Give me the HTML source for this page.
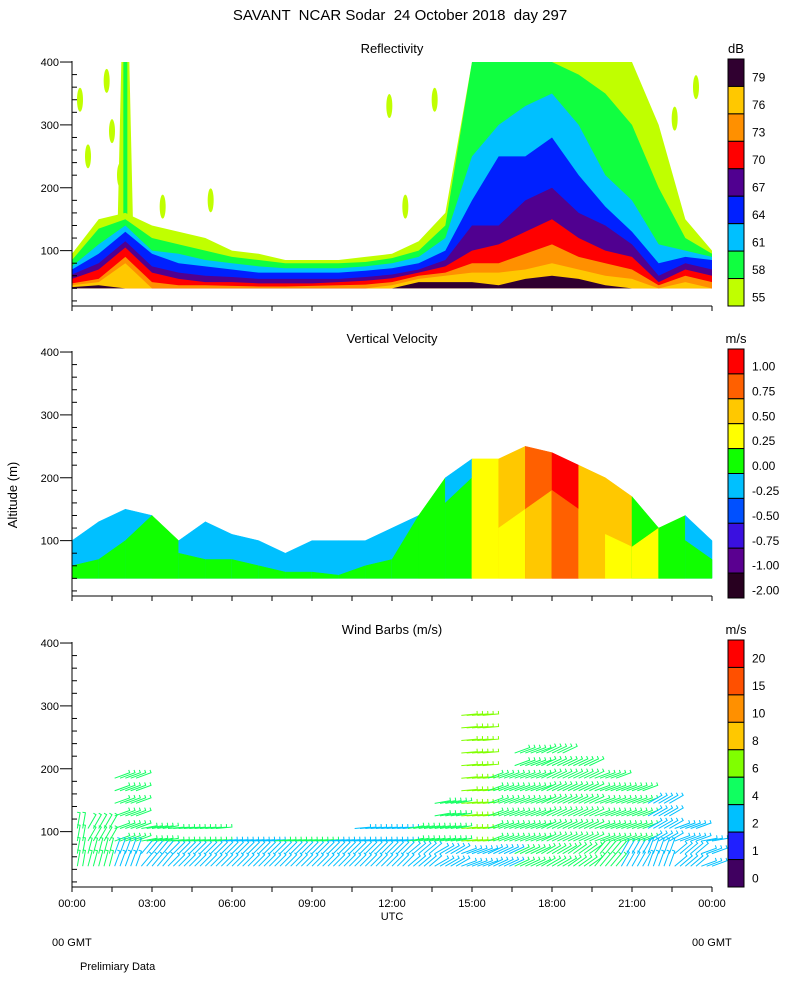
<!DOCTYPE html>
<html><head><meta charset="utf-8"><style>
body{margin:0;background:#fff;}
svg{display:block;font-family:"Liberation Sans",sans-serif;}
</style></head><body>
<svg id="chart" width="800" height="1000" xmlns="http://www.w3.org/2000/svg">
<text x="400" y="20" font-size="15" text-anchor="middle" style="white-space:pre">SAVANT  NCAR Sodar  24 October 2018  day 297</text>
<text x="392" y="53" font-size="13" text-anchor="middle">Reflectivity</text>
<text x="392" y="343" font-size="13" text-anchor="middle">Vertical Velocity</text>
<text x="392" y="634" font-size="13" text-anchor="middle">Wind Barbs (m/s)</text>
<text x="0" y="0" font-size="13" text-anchor="middle" transform="translate(17,495) rotate(-90)">Altitude (m)</text>
<text x="736" y="53" font-size="13" text-anchor="middle">dB</text>
<text x="736" y="343" font-size="13" text-anchor="middle">m/s</text>
<text x="736" y="634" font-size="13" text-anchor="middle">m/s</text>
<text x="392" y="920" font-size="11" text-anchor="middle">UTC</text>
<text x="52" y="946" font-size="11">00 GMT</text>
<text x="692" y="946" font-size="11">00 GMT</text>
<text x="80" y="970" font-size="11">Prelimiary Data</text>
<g id="g"></g>
</svg>
<script>
const hours=[0,1,2,3,4,5,6,7,8,9,10,11,12,13,14,15,16,17,18,19,20,21,22,23,24];
const reflLevels=[55,58,61,64,67,70,73,76,79];
const reflColors=['#c0ff00','#10ff40','#00c0ff','#0020ff','#500090','#ff0000','#ff9000','#ffc800','#300030'];
const refl55=[95,150,160,140,130,120,100,95,85,85,85,90,95,115,160,400,400,400,400,400,400,400,300,150,100];
const refl58=[85,135,150,120,110,100,90,85,80,80,80,82,88,100,140,400,400,400,400,380,350,300,200,120,95];
const refl61=[75,110,140,100,95,85,80,75,72,72,72,75,80,90,120,250,300,330,350,300,220,180,110,100,90];
const refl64=[70,95,130,95,80,75,70,65,65,65,65,68,72,80,100,180,250,250,280,220,170,130,80,90,85];
const refl67=[62,80,115,75,65,60,58,55,55,55,55,58,62,70,85,140,140,180,200,160,140,110,60,80,70];
const refl70=[55,70,105,65,55,50,50,48,48,48,50,52,56,65,75,100,110,130,150,120,100,90,50,70,60];
const refl73=[48,55,90,50,45,45,44,43,43,44,45,46,50,60,65,80,80,95,110,90,80,70,45,60,50];
const refl76=[45,50,80,0,0,0,0,0,0,0,0,0,45,55,60,65,65,70,80,70,60,55,0,50,0];
const refl79=[42,45,0,0,0,0,0,0,0,0,0,0,0,50,50,50,45,55,60,55,45,0,0,0,0];
const reflColumnHours=[1.85,2.0,2.15];
const reflColumnTops=[400,400,400];
const reflBlobHours=[0.3,0.6,1.3,1.5,1.8,3.4,5.2,12.5,13.6,22.6,23.4,11.9];
const reflBlobAlts=[340,250,370,290,220,170,180,170,340,310,360,330];

const vvLevels=[-2,-1,-0.75,-0.5,-0.25,0,0.25,0.5,0.75,1.0];
const vvColors=['#280020','#5a0090','#3a10e0','#0050ff','#00c0ff','#10ff00','#ffff00','#ffc800','#ff6000','#ff0000'];
const vvTop=[100,130,150,140,100,130,110,100,80,100,100,100,120,140,200,230,230,250,240,220,200,170,120,140,100];
const vvMid=[60,70,100,140,80,70,70,60,50,50,45,60,70,140,160,200,120,150,180,150,110,90,120,100,70];
const vvUpper=[-0.2,-0.2,-0.2,0.1,-0.2,-0.2,-0.2,-0.2,-0.2,-0.2,-0.2,-0.2,-0.2,0.1,-0.2,0.4,0.6,0.9,1.1,0.6,0.6,0.1,0.1,-0.2,-0.2];
const vvLower=[0.1,0.1,0.1,0.1,0.1,0.1,0.1,0.1,0.1,0.1,0.1,0.1,0.1,0.1,0.1,0.3,0.3,0.6,0.8,0.6,0.3,0.3,0.1,0.1,0.1];

const windLevels=[0,1,2,4,6,8,10,15,20];
const windColors=['#400060','#2020ff','#00c0ff','#10ff60','#80ff00','#ffc800','#ff9000','#ff5000','#ff0000'];
const windTop=[120,120,190,120,110,120,90,90,90,90,90,110,110,120,160,300,200,240,240,220,200,180,150,120,100];
const windLow=[4,4,3,2,2,2,2,2,2,2,2,2,2,2,3,3,3,4,4,4,4,3,2,2,2];
const windHigh=[4,4,5,4,4,4,3,3,4,4,3,3,3,4,5,6,5,5,5,5,4,4,3,2,2];
const windDirLow=[80,75,70,50,45,45,45,45,45,45,45,45,45,40,30,20,25,25,30,35,50,60,70,40,20];
const windDirHigh=[80,60,20,10,5,5,5,5,5,5,5,5,5,10,10,5,20,20,25,25,20,20,30,20,10];

const NS='http://www.w3.org/2000/svg';
const G=document.getElementById('g');
const X0=72,XW=640;
const xS=h=>X0+h*XW/24;
const panels=[0,290,581];
const yS=(a,p)=>313.5-a*0.6287+panels[p];
function mk(tag,attrs,parent){const e=document.createElementNS(NS,tag);for(const k in attrs)e.setAttribute(k,attrs[k]);(parent||G).appendChild(e);return e;}
function bin(v,levels){let k=0;for(let i=0;i<levels.length;i++)if(v>=levels[i])k=i;return k;}

// Reflectivity
const reflTops=[refl55,refl58,refl61,refl64,refl67,refl70,refl73,refl76,refl79];
const gR=mk('g',{});


reflBlobHours.forEach((h,i)=>{
  const b=mk('ellipse',{cx:xS(h),cy:yS(reflBlobAlts[i],0),rx:3,ry:12,fill:reflColors[0]},gR);
  
  
});
{
  let pts=reflColumnHours.map((h,i)=>xS(h)+','+yS(reflColumnTops[i],0));
  pts.push(xS(reflColumnHours[2]+0.15)+','+yS(120,0));pts.push(xS(reflColumnHours[0]-0.15)+','+yS(120,0));
  const c=mk('polygon',{points:pts.join(' '),fill:reflColors[0]},gR);
  
  
  const c2=mk('rect',{x:xS(reflColumnHours[1])-2,y:yS(reflColumnTops[1],0),width:4,height:yS(150,0)-yS(reflColumnTops[1],0),fill:reflColors[1]},gR);
  
  
}
reflTops.forEach((tops,k)=>{
  let pts=[];
  hours.forEach((h,i)=>pts.push(xS(h)+','+yS(Math.max(40,tops[i]),0)));
  pts.push(xS(24)+','+yS(40,0));pts.push(xS(0)+','+yS(40,0));
  const p=mk('polygon',{points:pts.join(' '),fill:reflColors[k]},gR);
  
  
});

// Vertical velocity
const gV=mk('g',{});


for(let i=0;i<hours.length-1;i++){
  const x1=xS(hours[i]),x2=xS(hours[i+1]),b=yS(40,1);
  const up=mk('polygon',{points:`${x1},${b} ${x1},${yS(vvTop[i],1)} ${x2},${yS(vvTop[i+1],1)} ${x2},${b}`,fill:vvColors[bin(vvUpper[i],vvLevels)],stroke:vvColors[bin(vvUpper[i],vvLevels)],'stroke-width':0.5},gV);
  
  
  const lo=mk('polygon',{points:`${x1},${b} ${x1},${yS(Math.min(vvMid[i],vvTop[i]),1)} ${x2},${yS(Math.min(vvMid[i+1],vvTop[i+1]),1)} ${x2},${b}`,fill:vvColors[bin(vvLower[i],vvLevels)],stroke:vvColors[bin(vvLower[i],vvLevels)],'stroke-width':0.5},gV);
  
  
}

// Wind barbs
const gW=mk('g',{});


for(let i=0;i<hours.length;i++){
  for(let s=0;s<5;s++){
    const h=hours[i]+s*0.2-0.4; if(h<0.1||h>24)continue;
    for(let a=45;a<=windTop[i];a+=20){
      const low=a<80;
      const sp=low?windLow[i]:windHigh[i];
      const dir=(low?windDirLow[i]:windDirHigh[i])*Math.PI/180;
      const x=xS(h),y=yS(a,2),L=16;
      const c=windColors[bin(sp,windLevels)];
      const ln=mk('path',{d:`M${x},${y} L${x+L*Math.cos(dir)},${y-L*Math.sin(dir)} l${-3*Math.sin(dir)},${-3*Math.cos(dir)}`,stroke:c,'stroke-width':1,fill:'none'},gW);
      
      
    }
  }
}

// Axes
const hourTicks=[0,1.5,3,4.5,6,7.5,9,10.5,12,13.5,15,16.5,18,19.5,21,22.5,24];
const timeLabels=['00:00','03:00','06:00','09:00','12:00','15:00','18:00','21:00','00:00'];
const altTicks=[100,200,300,400];
panels.forEach((off,p)=>{
  const ax=mk('g',{stroke:'#000','stroke-width':1,fill:'none'});
  
  
  const yb=306+off;
  mk('line',{x1:X0,y1:yS(400,p)-1,x2:X0,y2:yb},ax);
  mk('line',{x1:X0,y1:yb,x2:X0+XW,y2:yb},ax);
  for(let a=20;a<=400;a+=20){
    if(a%100===0)mk('line',{x1:X0-12,y1:yS(a,p),x2:X0,y2:yS(a,p)},ax);
    else mk('line',{x1:X0,y1:yS(a,p),x2:X0+5,y2:yS(a,p)},ax);
  }
  hourTicks.forEach(h=>mk('line',{x1:xS(h),y1:yb,x2:xS(h),y2:yb+5},ax));
  altTicks.forEach(a=>{
    const t=mk('text',{x:X0-13,y:yS(a,p)+4,'font-size':11,'text-anchor':'end',fill:'#000',stroke:'none'},ax);
    
    
    t.textContent=a;
  });
});
timeLabels.forEach((t,i)=>{
  const e=mk('text',{x:xS(i*3),y:907,'font-size':11,'text-anchor':'middle'});
  
  
  e.textContent=t;
});

// Colorbars
function colorbar(top,bot,colors,labels,name){
  const g=mk('g',{});
  
  
  const n=colors.length,hgt=(bot-top)/n;
  for(let i=0;i<n;i++){
    const k=n-1-i;
    const r=mk('rect',{x:728,y:top+i*hgt,width:16,height:hgt,fill:colors[k],stroke:'#000','stroke-width':1},g);
    
    
    const t=mk('text',{x:752,y:top+i*hgt+hgt/2+9,'font-size':12},g);
    
    
    t.textContent=labels[k];
  }
}
colorbar(59,306,reflColors,reflLevels.map(String),'reflectivity-colorbar');
colorbar(349,598,vvColors,vvLevels.map(v=>v.toFixed(2)),'velocity-colorbar');
colorbar(640,887,windColors,windLevels.map(String),'wind-colorbar');
</script>
</body></html>
